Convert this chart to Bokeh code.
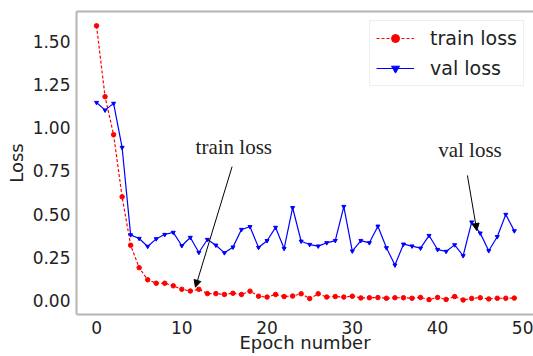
from bokeh.plotting import figure
from bokeh.models import Range1d, FixedTicker, Arrow, NormalHead, Label, Legend, LinearAxis
from bokeh.embed import file_html
from bokeh.resources import INLINE

epochs = list(range(50))
train_loss = [1.59, 1.18, 0.96, 0.60, 0.32, 0.19, 0.12, 0.10, 0.10, 0.085,
              0.065, 0.055, 0.065, 0.04, 0.04, 0.035, 0.042, 0.035, 0.054, 0.025,
              0.02, 0.035, 0.023, 0.026, 0.039, 0.011, 0.039, 0.02, 0.023, 0.02,
              0.025, 0.015, 0.016, 0.017, 0.013, 0.016, 0.016, 0.013, 0.018, 0.005,
              0.018, 0.006, 0.023, 0.003, 0.012, 0.016, 0.009, 0.013, 0.013, 0.014]
val_loss = [1.146, 1.102, 1.141, 0.886, 0.38, 0.359, 0.313, 0.357, 0.382, 0.394,
            0.317, 0.365, 0.278, 0.353, 0.32, 0.276, 0.309, 0.411, 0.427, 0.307,
            0.346, 0.423, 0.301, 0.537, 0.343, 0.324, 0.315, 0.334, 0.347, 0.544,
            0.286, 0.347, 0.334, 0.43, 0.305, 0.205, 0.326, 0.315, 0.303, 0.376,
            0.295, 0.284, 0.322, 0.259, 0.454, 0.39, 0.288, 0.369, 0.498, 0.403]
x_ticks = [0, 10, 20, 30, 40, 50]
y_ticks = [0.0, 0.25, 0.5, 0.75, 1.0, 1.25, 1.5]

SPINE = "#b5b5b5"
p = figure(width=533, height=356, output_backend="svg", toolbar_location=None,
           x_range=Range1d(-2.35, 51.25), y_range=Range1d(-0.081, 1.673),
           min_border_left=76, min_border_right=0, min_border_top=11, min_border_bottom=42)
p.background_fill_color = "white"
p.border_fill_color = "white"
p.outline_line_color = None
p.xgrid.visible = False
p.ygrid.visible = False

xax = p.xaxis[0]
yax = p.yaxis[0]
for ax in (xax, yax):
    ax.axis_line_color = SPINE
    ax.axis_line_width = 2
    ax.major_tick_line_color = None
    ax.minor_tick_line_color = None
    ax.major_tick_out = 0
    ax.major_tick_in = 0
    ax.minor_tick_out = 0
    ax.minor_tick_in = 0
    ax.major_label_text_font = "DejaVu Sans"
    ax.major_label_text_font_size = "17px"
    ax.major_label_text_color = "#222222"
    ax.axis_label_text_font = "DejaVu Sans"
    ax.axis_label_text_font_size = "18px"
    ax.axis_label_text_font_style = "normal"
    ax.axis_label_text_color = "#222222"
    ax.major_label_standoff = 6

xax.ticker = FixedTicker(ticks=x_ticks)
yax.ticker = FixedTicker(ticks=y_ticks)
yax.major_label_overrides = {t: f"{t:.2f}" for t in y_ticks}
xax.axis_label = "Epoch number"
yax.axis_label = "Loss"
xax.axis_label_standoff = -5
yax.axis_label_standoff = 3

top_axis = LinearAxis(axis_line_color=SPINE, axis_line_width=2,
                      major_tick_line_color=None, minor_tick_line_color=None,
                      major_tick_out=0, major_tick_in=0, minor_tick_out=0, minor_tick_in=0,
                      major_label_standoff=0, ticker=FixedTicker(ticks=[]))
p.add_layout(top_axis, "above")

r1 = p.line(epochs, train_loss, line_color="#ff0000", line_width=1.2, line_dash="3 2")
r1m = p.scatter(epochs, train_loss, marker="circle", size=4.5, fill_color="#ff0000", line_color="#ff0000")
r2 = p.line(epochs, val_loss, line_color="#0000ff", line_width=1.2)
r2m = p.scatter(epochs, val_loss, marker="inverted_triangle", size=4, fill_color="#0000ff", line_color="#0000ff")

legend = Legend(items=[("train loss", [r1, r1m]), ("val loss", [r2, r2m])], location="top_right")
legend.label_text_font = "DejaVu Sans"
legend.label_text_font_size = "19px"
legend.label_text_color = "#222222"
legend.border_line_color = "#dddddd"
legend.border_line_width = 1
legend.margin = 9
legend.padding = 6
legend.spacing = 8
legend.glyph_width = 38
legend.glyph_height = 20
legend.label_standoff = 16
legend.label_height = 20
p.add_layout(legend)

p.add_layout(Arrow(end=NormalHead(size=7, fill_color="black", line_color="black"),
                   x_start=15.9, y_start=0.775, x_end=11.6, y_end=0.077,
                   line_color="black", line_width=1))
p.add_layout(Arrow(end=NormalHead(size=7, fill_color="black", line_color="black"),
                   x_start=43.5, y_start=0.724, x_end=44.6, y_end=0.405,
                   line_color="black", line_width=1))
p.add_layout(Label(x=16.1, y=0.886, text="train loss", text_font="Liberation Serif",
                   text_font_size="21px", text_align="center", text_baseline="middle",
                   text_color="#222222"))
p.add_layout(Label(x=43.8, y=0.874, text="val loss", text_font="Liberation Serif",
                   text_font_size="21px", text_align="center", text_baseline="middle",
                   text_color="#222222"))

open("out.html", "w").write(file_html(p, INLINE))
